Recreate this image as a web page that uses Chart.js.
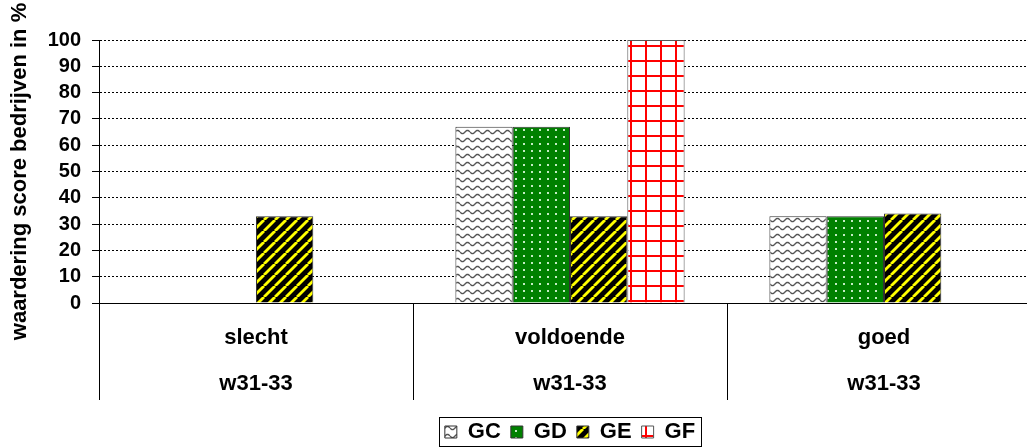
<!DOCTYPE html>
<html>
<head>
<meta charset="utf-8">
<script src="https://cdn.jsdelivr.net/npm/chart.js@4/dist/chart.umd.min.js"></script>
<style>
  html, body { margin: 0; padding: 0; background: #fff; overflow: hidden; }
  #chart { display: block; }
</style>
</head>
<body>
<canvas id="chart" width="1060" height="453"></canvas>
<script>
// data
const categories = [["slecht", "w31-33"], ["voldoende", "w31-33"], ["goed", "w31-33"]];
const seriesNames = ["GC", "GD", "GE", "GF"];
const gcValues = [0, 67, 33];
const gdValues = [0, 67, 33];
const geValues = [33, 33, 34];
const gfValues = [0, 100, 0];
const yMin = 0;
const yMax = 100;
const yStep = 10;
const yTitle = "waardering score bedrijven in %";

const FONT = "'Liberation Sans', Arial, sans-serif";
const canvas = document.getElementById("chart");
const ctx = canvas.getContext("2d");

// small tiles used as fill patterns
function makePattern(w, h, draw) {
  const c = document.createElement("canvas");
  c.width = w;
  c.height = h;
  draw(c.getContext("2d"), w, h);
  return ctx.createPattern(c, "repeat");
}

const patGC = makePattern(10, 8, (g, w, h) => {
  g.fillStyle = "#fff";
  g.fillRect(0, 0, w, h);
  g.strokeStyle = "#555";
  g.lineWidth = 1.4;
  g.beginPath();
  for (let x = 0; x <= w; x += 0.5) {
    const y = 4 + 1.6 * Math.sin((x / w) * Math.PI * 2);
    if (x === 0) g.moveTo(x, y); else g.lineTo(x, y);
  }
  g.stroke();
});

const patGD = makePattern(8, 7, (g, w, h) => {
  g.fillStyle = "#008000";
  g.fillRect(0, 0, w, h);
  g.fillStyle = "rgba(230,255,230,0.85)";
  g.fillRect(3, 3, 2, 2);
});

const patGE = makePattern(11, 11, (g, w, h) => {
  g.fillStyle = "#000";
  g.fillRect(0, 0, w, h);
  g.strokeStyle = "#ffff00";
  g.lineWidth = 2.8;
  for (const k of [-w, 0, w]) {
    g.beginPath();
    g.moveTo(k, h);
    g.lineTo(k + w, 0);
    g.stroke();
  }
});

const patGF = makePattern(15, 15, (g, w, h) => {
  g.fillStyle = "#fff";
  g.fillRect(0, 0, w, h);
  g.fillStyle = "#ff0000";
  g.fillRect(0, 0, 2, h);
  g.fillRect(0, 0, w, 2);
});

// frame around the legend items
const legendBox = {
  id: "legendBox",
  afterDraw(chart) {
    const boxes = chart.legend.legendHitBoxes;
    if (!boxes || !boxes.length) return;
    const first = boxes[0];
    const last = boxes[boxes.length - 1];
    const c = chart.ctx;
    c.save();
    c.strokeStyle = "#000";
    c.lineWidth = 1;
    const x1 = Math.round(first.left - 6) + 0.5;
    const x2 = Math.round(last.left + last.width + 6) + 0.5;
    const y1 = Math.round(first.top - 4) + 0.5;
    const y2 = Math.round(first.top + first.height + 3) + 0.5;
    c.strokeRect(x1, y1, x2 - x1, y2 - y1);
    c.restore();
  }
};

new Chart(ctx, {
  type: "bar",
  data: {
    labels: categories,
    datasets: [
      { label: seriesNames[0], data: gcValues, backgroundColor: patGC, borderColor: "#333", borderWidth: 1 },
      { label: seriesNames[1], data: gdValues, backgroundColor: patGD, borderColor: "#333", borderWidth: 1 },
      { label: seriesNames[2], data: geValues, backgroundColor: patGE, borderColor: "#333", borderWidth: 1 },
      { label: seriesNames[3], data: gfValues, backgroundColor: patGF, borderColor: "#555", borderWidth: 1 }
    ]
  },
  options: {
    responsive: false,
    animation: false,
    devicePixelRatio: 1,
    categoryPercentage: 0.73,
    barPercentage: 1.0,
    layout: { padding: { top: 40, right: 19, left: 0, bottom: 0 } },
    plugins: {
      tooltip: { enabled: false },
      legend: {
        position: "bottom",
        fullSize: false,
        labels: {
          color: "#000",
          boxWidth: 12,
          boxHeight: 12,
          padding: 10,
          font: { family: FONT, size: 22, weight: "bold" }
        }
      }
    },
    scales: {
      x: {
        grid: { offset: true, drawOnChartArea: false, drawTicks: true, tickLength: 97, color: "#000", lineWidth: 1 },
        border: { color: "#000", width: 1 },
        ticks: {
          color: "#000",
          autoSkip: false,
          maxRotation: 0,
          padding: -85,
          font: { family: FONT, size: 22, weight: "bold", lineHeight: 2.09 }
        },
        afterFit(scale) { scale.height = 108; }
      },
      y: {
        min: yMin,
        max: yMax,
        ticks: {
          stepSize: yStep,
          autoSkip: false,
          color: "#000",
          padding: 11,
          font: { family: FONT, size: 20, weight: "bold" }
        },
        grid: { color: "#000", lineWidth: 1, tickLength: 7, tickColor: "#000" },
        border: { color: "#000", width: 1, dash: [2, 2] },
        title: {
          display: true,
          text: yTitle,
          color: "#000",
          padding: { top: 7, bottom: 0 },
          font: { family: FONT, size: 22, weight: "bold" }
        },
        afterFit(scale) { scale.width = 99; }
      }
    }
  },
  plugins: [legendBox]
});
</script>
</body>
</html>
